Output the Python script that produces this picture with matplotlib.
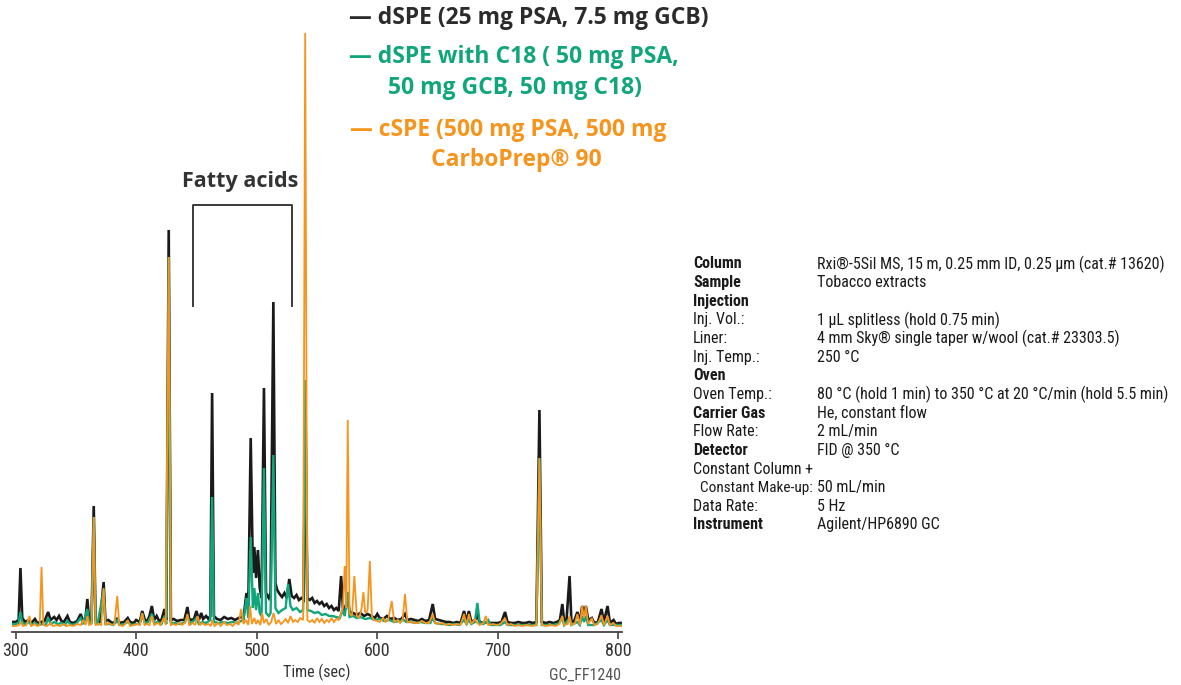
import matplotlib
matplotlib.use("Agg")
import matplotlib.pyplot as plt
from matplotlib import font_manager

# ---------------- data (retention time in s, detector response in arbitrary units) -------------
black_t = [297, 300, 302.5, 304, 305.5, 308, 311, 313, 316, 318, 321, 324, 327, 329, 332, 334, 336, 338, 340, 343,
           345, 348, 351, 354, 356, 358, 359.5, 361, 363, 364.8, 366.3, 368, 370, 373, 374.5, 377, 380, 383, 384.5,
           386, 390, 393, 395, 398, 400, 403, 405, 407, 409, 411, 413, 415, 417, 419, 421, 423.5, 425, 427, 428.8,
           431, 434, 437, 440, 442.5, 444, 446, 448, 450, 452, 454, 455.5, 458, 460, 461.5, 463, 464.5, 467, 470,
           473, 476, 479, 482, 485, 487, 489, 491.5, 493, 495, 496.8, 498, 499.5, 501, 502.5, 504, 506, 507.7, 510,
           511.5, 513.8, 515.5, 517, 519, 521, 523, 525, 527, 529, 531, 533, 535, 537, 539, 540.3, 542, 544, 546,
           548, 550, 552, 554, 556, 558, 560, 562, 564, 566, 568, 570, 571.5, 573, 575.5, 577, 580, 583, 586, 589,
           592, 595, 598, 600, 602, 605, 608, 611, 614, 617, 620, 623, 625, 628, 631, 634, 637, 640, 643, 646, 648,
           651, 654, 657, 660, 663, 666, 669, 672, 674, 676, 678, 681, 683, 685, 688, 691, 694, 697, 700, 703, 706,
           708, 711, 714, 717, 720, 723, 726, 729, 732, 734.5, 736.5, 740, 743, 746, 749, 751.5, 753.5, 755, 757,
           759.5, 761, 763, 766, 768, 770, 771.5, 773, 775, 778, 780, 783, 786, 788, 791, 793, 796, 798, 800, 803]
black_v = [6, 6, 8, 60, 10, 6, 8, 5, 9, 5, 6, 7, 16, 8, 11, 8, 12, 7, 6, 12,
           6, 5, 7, 14, 6, 10, 29, 8, 8, 122, 8, 6, 6, 46, 7, 8, 5, 6, 10,
           5, 6, 10, 6, 5, 8, 6, 17, 9, 6, 12, 22, 8, 12, 7, 8, 19, 8, 398, 8,
           9, 7, 8, 8, 21, 9, 8, 9, 17, 8, 15, 9, 12, 9, 12, 235, 12, 9, 8,
           11, 9, 10, 8, 10, 11, 10, 35, 20, 190, 55, 81, 50, 78, 40, 30, 240, 35, 30,
           35, 326, 45, 38, 34, 31, 35, 30, 49, 32, 30, 33, 28, 30, 28, 240, 30, 28, 30,
           25, 27, 24, 26, 22, 24, 20, 22, 18, 20, 17, 52, 20, 18, 30, 16, 15, 13, 15, 12,
           14, 12, 10, 14, 10, 9, 12, 9, 10, 8, 9, 14, 8, 9, 8, 7, 9, 7, 8, 24, 9,
           8, 7, 6, 6, 5, 6, 5, 17, 6, 17, 6, 8, 12, 6, 5, 6, 5, 5, 5, 6, 16,
           6, 5, 5, 6, 5, 5, 6, 5, 6, 218, 6, 5, 6, 5, 6, 8, 24, 7, 8,
           52, 7, 6, 16, 6, 22, 14, 22, 8, 10, 5, 6, 19, 6, 22, 5, 8, 4, 5, 5]

green_t = [297, 300, 302.5, 304, 305.5, 308, 311, 313, 316, 319, 322, 325, 327, 329, 332, 335, 338, 341, 343, 346,
           350, 354, 356, 359.5, 361, 363, 364.8, 366.3, 368, 373, 374.5, 378, 381, 384.5, 386, 390, 393, 396, 400,
           403, 405, 407, 410, 413, 415, 418, 421, 423.5, 425, 427, 428.8, 432, 436, 440, 442.5, 445, 450, 452, 455,
           458, 461.5, 463, 464.5, 468, 472, 476, 480, 484, 487, 489, 491.5, 493, 495, 496.8, 498, 499.5, 501, 502.5,
           504, 506, 507.7, 510, 511.5, 513.8, 515.5, 518, 521, 524, 526, 528, 530, 533, 536, 538.5, 540.2, 542, 545,
           548, 551, 554, 557, 560, 563, 566, 569, 571, 573, 575.5, 577, 580, 583, 586, 590, 594, 598, 602, 606, 610,
           614, 618, 622, 624, 628, 632, 636, 640, 644, 646, 648, 652, 656, 660, 664, 668, 672, 674, 676, 678, 681,
           683, 685, 688, 692, 694, 698, 702, 706, 708, 712, 716, 720, 724, 728, 732, 734.5, 736.5, 740, 745, 750,
           753.5, 755, 759.5, 761, 766, 768, 770, 771.5, 773, 775, 780, 786, 788, 791, 793, 798, 803]
green_v = [4, 4, 5, 16, 5, 4, 6, 3, 5, 3, 4, 3, 10, 4, 6, 4, 5, 3, 7, 3,
           4, 10, 4, 19, 5, 5, 111, 5, 4, 38, 4, 4, 3, 8, 3, 4, 6, 3, 4,
           4, 14, 5, 6, 14, 5, 6, 4, 12, 4, 371, 5, 5, 4, 5, 12, 4, 10, 4, 6,
           5, 8, 131, 6, 5, 6, 5, 6, 5, 7, 8, 30, 10, 91, 20, 40, 18, 35, 15,
           12, 160, 15, 12, 15, 173, 20, 15, 18, 20, 44, 22, 18, 20, 16, 18, 248, 18, 17,
           15, 16, 13, 14, 12, 12, 11, 10, 18, 12, 36, 11, 12, 10, 11, 9, 10, 8, 9, 7, 8,
           6, 7, 8, 6, 6, 5, 6, 5, 5, 10, 5, 4, 4, 3, 4, 3, 8, 4, 8, 4, 6,
           25, 5, 4, 8, 3, 3, 3, 6, 3, 3, 3, 3, 3, 3, 3, 170, 3, 3, 3, 4,
           10, 3, 10, 3, 6, 3, 12, 6, 12, 3, 3, 8, 3, 8, 3, 3, 3]

orange_t = [297, 300, 303, 304.5, 306, 309, 311.5, 313, 316, 318, 320, 321.5, 323, 326, 329, 331, 334, 337, 340, 342,
            345, 348, 351, 354, 356, 358, 359.5, 361, 363, 364.8, 366.3, 369, 371, 373, 374.5, 377, 380, 382, 384.3,
            386, 389, 391, 393, 395, 398, 401, 403, 405, 407, 409, 411, 413, 415, 418, 420, 423, 424.5, 427, 428.8,
            431, 433, 436, 438, 441, 442.5, 444, 447, 449, 451, 453, 455, 457, 460, 462, 463, 465, 468, 470, 473,
            475, 478, 480, 483, 485, 487, 489, 491, 493, 494.5, 496, 498, 499.5, 501, 503, 504.5, 506, 508, 510, 512,
            514, 516, 518, 520, 522, 524, 526, 528, 530, 532, 534, 536, 538.5, 540.2, 542, 544, 546, 548, 550, 552,
            554, 556, 558, 560, 562, 564, 566, 568, 570, 571.5, 573, 574.3, 575.5, 577, 579, 581, 583, 585, 587,
            588.5, 590, 592, 593.8, 595.5, 597, 600, 602, 605, 607, 609, 612, 614, 617, 619, 621, 623, 625, 628, 631,
            634, 637, 640, 643, 646, 648, 651, 654, 657, 660, 663, 666, 669, 672, 674, 676, 678, 681, 683, 685, 688,
            690, 692, 696, 699, 702, 706, 708, 711, 714, 717, 720, 724, 728, 732, 734.5, 736.5, 740, 744, 748, 751,
            753.5, 755, 758, 759.5, 761, 764, 766, 768, 770, 771.5, 773, 775, 778, 780, 783, 786, 788, 791, 793, 796,
            798, 803]
orange_v = [2, 2, 3, 6, 2, 3, 12, 2, 4, 2, 3, 61, 3, 2, 5, 2, 3, 2, 4, 2,
            3, 2, 4, 3, 8, 3, 12, 3, 4, 111, 3, 4, 3, 40, 3, 5, 3, 4, 32,
            3, 2, 4, 8, 2, 3, 4, 3, 15, 3, 4, 3, 12, 3, 5, 3, 10, 3, 371, 3,
            4, 3, 5, 3, 6, 14, 3, 5, 3, 12, 3, 5, 3, 4, 2, 8, 2, 5, 2, 6,
            3, 4, 2, 6, 3, 19, 4, 8, 3, 22, 4, 10, 4, 8, 3, 15, 5, 9, 3, 6,
            15, 4, 8, 4, 6, 9, 5, 12, 6, 8, 6, 10, 8, 595, 8, 6, 8, 5, 10, 6,
            9, 5, 8, 6, 10, 6, 9, 8, 15, 20, 62, 20, 208, 15, 12, 52, 12, 10, 20,
            36, 15, 18, 67, 12, 8, 7, 6, 10, 6, 8, 27, 6, 8, 5, 8, 34, 6, 6, 5,
            5, 7, 5, 5, 14, 5, 4, 5, 3, 4, 3, 4, 3, 14, 3, 14, 4, 9, 5, 3, 5,
            12, 3, 4, 3, 4, 10, 3, 4, 2, 3, 2, 3, 2, 3, 170, 3, 2, 3, 2, 4,
            12, 3, 4, 12, 3, 5, 14, 3, 22, 10, 22, 4, 10, 3, 4, 13, 3, 12, 3, 5,
            2, 2]

x_ticks = [300, 400, 500, 600, 700, 800]
x_label = "Time (sec)"
series_lines = [["\u2014 dSPE (25 mg PSA, 7.5 mg GCB)"],
                ["\u2014 dSPE with C18 ( 50 mg PSA,", "50 mg GCB, 50 mg C18)"],
                ["\u2014 cSPE (500 mg PSA, 500 mg", "CarboPrep\u00ae 90"]]
bracket_label = "Fatty acids"
bracket_span = [447, 529.3]
code_label = "GC_FF1240"

cond_labels = ["Column", "Sample", "Injection", "Inj. Vol.:", "Liner:", "Inj. Temp.:", "Oven", "Oven Temp.:",
               "Carrier Gas", "Flow Rate:", "Detector", "Constant Column +", "Constant Make-up:", "Data Rate:",
               "Instrument"]
cond_bold = [True, True, True, False, False, False, True, False, True, False, True, False, False, False, True]
cond_values = ["Rxi\u00ae-5Sil MS, 15 m, 0.25 mm ID, 0.25 \u00b5m (cat.# 13620)", "Tobacco extracts", "",
               "1 \u00b5L splitless (hold 0.75 min)", "4 mm Sky\u00ae single taper w/wool (cat.# 23303.5)",
               "250 \u00b0C", "", "80 \u00b0C (hold 1 min) to 350 \u00b0C at 20 \u00b0C/min (hold 5.5 min)",
               "He, constant flow", "2 mL/min", "FID @ 350 \u00b0C", "", "50 mL/min", "5 Hz", "Agilent/HP6890 GC"]

# ---------------- fonts ----------------
available = {f.name for f in font_manager.fontManager.ttflist}

def pick(cands):
    for c in cands:
        if c in available:
            return c
    return "DejaVu Sans"

F_COND = pick(["Roboto Condensed", "Barlow Semi Condensed", "Liberation Sans Narrow", "Lato"])
F_HEAD = pick(["Open Sans", "Noto Sans"])

# ---------------- styling ----------------
W, H = 1181, 685
C_BLACK = "#1a1a1a"
C_GREEN = "#10a57a"
C_ORANGE = "#f7941d"

fig = plt.figure(figsize=(W / 100, H / 100), dpi=100)

def fx(px):
    return px / W

def fy(py):
    return 1 - py / H

ax_left, ax_right, ax_bottom, ax_top = 12, 622, 632, 20
ax = fig.add_axes([fx(ax_left), fy(ax_bottom), (ax_right - ax_left) / W, (ax_bottom - ax_top) / H])
ax.plot(black_t, black_v, color=C_BLACK, lw=1.9, solid_joinstyle="miter", zorder=2)
ax.plot(green_t, green_v, color=C_GREEN, lw=1.7, solid_joinstyle="miter", zorder=3)
ax.plot(orange_t, orange_v, color=C_ORANGE, lw=1.3, solid_joinstyle="miter", zorder=4)
ax.set_xlim(297, 803)
ax.set_ylim(-4, 608)
for s in ["top", "right", "left"]:
    ax.spines[s].set_visible(False)
ax.spines["bottom"].set_color("#444444")
ax.spines["bottom"].set_linewidth(1.3)
ax.set_yticks([])
ax.set_xticks(x_ticks)
ax.tick_params(axis="x", direction="out", length=5, width=1.2, color="#444444",
               labelsize=13, labelcolor="#333333", pad=2)
for lab in ax.get_xticklabels():
    lab.set_family(F_COND)
ax.set_xlabel(x_label, fontsize=11.5, family=F_COND, color="#333333", labelpad=3)
ax.patch.set_alpha(0)

# bracket for fatty acids
bx0, bx1 = bracket_span
ax.plot([bx0, bx0, bx1, bx1], [322, 423, 423, 322], color="#3a3a3a", lw=1.4, clip_on=False)
ax.text((bx0 + bx1) / 2 - 1.5, 446, bracket_label, ha="center", va="center", fontsize=15.5,
        family=F_HEAD, fontweight="bold", color="#333333")

# legend-like coloured text
head_kw = dict(ha="left", va="center", fontsize=16.5, family=F_HEAD, fontweight="bold")
fig.text(fx(349), fy(18), series_lines[0][0], color="#2b2b2b", **head_kw)
fig.text(fx(349), fy(57), series_lines[1][0], color=C_GREEN, **head_kw)
fig.text(fx(388), fy(88), series_lines[1][1], color=C_GREEN, **head_kw)
fig.text(fx(350), fy(130), series_lines[2][0], color=C_ORANGE, **head_kw)
fig.text(fx(431), fy(160), series_lines[2][1], color=C_ORANGE, **head_kw)

fig.text(fx(621), fy(675), code_label, ha="right", va="center", fontsize=11.5, family=F_COND, color="#555555")

# conditions table
row0, dy = 264, 18.64
for i, (lab, b, val) in enumerate(zip(cond_labels, cond_bold, cond_values)):
    y = fy(row0 + i * dy)
    lx = 700 if i == 12 else 693
    fig.text(fx(lx), y, lab, ha="left", va="center", fontsize=11 if i == 12 else 11.5, family=F_COND,
             fontweight="bold" if b else "normal", color="#1a1a1a")
    if val:
        fig.text(fx(817), y, val, ha="left", va="center", fontsize=11.5, family=F_COND, color="#1a1a1a")

fig.savefig("out.png", dpi=100)
